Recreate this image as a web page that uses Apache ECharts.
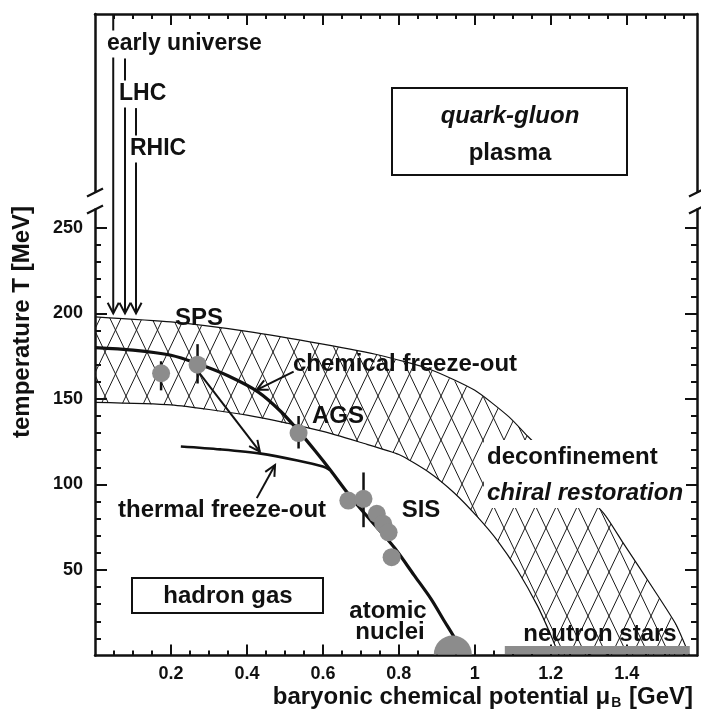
<!DOCTYPE html>
<html>
<head>
<meta charset="utf-8">
<script src="https://cdn.jsdelivr.net/npm/echarts@6/dist/echarts.min.js"></script>
<style>
  html, body { margin: 0; padding: 0; background: #fff; }
  #main { width: 701px; height: 723px; }
</style>
</head>
<body>
<div id="main"></div>
<script>
// ---- Data (mu_B in GeV, T in MeV) ----
// Hatched crossover band: upper and lower boundaries
const bandUpperMu = [0, 0.2, 0.4, 0.6, 0.75, 0.88, 1.0, 1.09, 1.14, 1.24, 1.34, 1.39, 1.47, 1.53, 1.565];
const bandUpperT  = [198, 195, 189.5, 182, 175.5, 167.5, 155, 139.5, 128, 106, 83, 66, 39, 18, 0];
const bandLowerMu = [0, 0.2, 0.4, 0.6, 0.7, 0.8, 0.88, 0.946, 1.007, 1.06, 1.112, 1.165, 1.2, 1.222];
const bandLowerT  = [148, 146.5, 140.5, 131, 124.5, 117.5, 107, 95, 81, 67, 50, 29, 12, 0];

// Chemical freeze-out curve
const chemMu = [0, 0.1, 0.2, 0.271, 0.35, 0.43, 0.49, 0.537, 0.58, 0.621, 0.665, 0.71, 0.75, 0.79, 0.84, 0.885, 0.92, 0.946, 0.955];
const chemT  = [180, 178.5, 175.5, 170.5, 163.5, 154, 142.5, 131, 119.5, 108, 95, 83, 73, 62.5, 47, 33, 20, 10.5, 6];

// Thermal freeze-out curve
const thermMu = [0.226, 0.33, 0.437, 0.533, 0.6, 0.618];
const thermT  = [122.2, 120.5, 118, 114, 110.5, 108.5];

// Freeze-out points (SPS, AGS, SIS)
const pointMu = [0.174, 0.27, 0.536, 0.667, 0.707, 0.742, 0.759, 0.773, 0.781];
const pointT  = [165, 170, 130, 90.6, 91.6, 82.8, 77, 72, 57.5];

// Vertical error bars
const errMu   = [0.174, 0.27, 0.536, 0.707];
const errLow  = [155, 159, 121, 75];
const errHigh = [172, 182, 140, 107];

// Beam trajectories (early universe, LHC, RHIC)
const beamMu   = [0.048, 0.079, 0.108];
const beamTopT = [375, 349, 320];
const beamTipT = [200, 200, 200];

// Pointer arrows: chemical label, SPS -> thermal, thermal label
const arrowFromMu = [0.523, 0.272, 0.426];
const arrowFromT  = [166, 166, 92];
const arrowToMu   = [0.426, 0.434, 0.474];
const arrowToT    = [155.3, 119.2, 111.4];

// Atomic nuclei and neutron stars
const nucleusMu = 0.942;
const neutronStarMu = [1.079, 1.566];

// Axis ticks
const xTickValues  = [0.2, 0.4, 0.6, 0.8, 1, 1.2, 1.4];
const xMinorValues = [0.05, 0.1, 0.15, 0.25, 0.3, 0.35, 0.45, 0.5, 0.55, 0.65, 0.7, 0.75, 0.85, 0.9, 0.95,
                      1.05, 1.1, 1.15, 1.25, 1.3, 1.35, 1.45, 1.5, 1.55];
const yTickValues  = [50, 100, 150, 200, 250];
const yMinorValues = [10, 20, 30, 40, 60, 70, 80, 90, 110, 120, 130, 140, 160, 170, 180, 190, 210, 220, 230, 240];

const X_MAX = 1.585, Y_MAX = 375, BREAK_T = 266;
const FONT = '"Liberation Sans", Arial, Helvetica, sans-serif';
const INK = '#111';

// Diamond cross-hatch tile for the crossover band
function makeHatch(w, h) {
  const c = document.createElement('canvas');
  c.width = w; c.height = h;
  const g = c.getContext('2d');
  g.strokeStyle = '#1a1a1a';
  g.lineWidth = 1;
  for (let k = -1; k <= 1; k++) {
    g.beginPath();
    g.moveTo(k * w - w, -h); g.lineTo(k * w + 2 * w, 2 * h);
    g.moveTo(k * w + 2 * w, -h); g.lineTo(k * w - w, 2 * h);
    g.stroke();
  }
  return c;
}
const hatch = makeHatch(21, 44);

function zip(a, b) { return a.map((v, i) => [v, b[i]]); }

function xAxisCfg(pos, values, len, showLine, showLabel) {
  return {
    type: 'value', position: pos, min: 0, max: X_MAX,
    axisLine: { show: showLine, onZero: false, lineStyle: { color: INK, width: 2.5 } },
    axisTick: { show: true, inside: true, length: len, customValues: values, lineStyle: { color: INK, width: 2 } },
    axisLabel: showLabel ? {
      show: true, customValues: values, margin: 10,
      fontFamily: FONT, fontWeight: 'bold', fontSize: 18, color: INK,
      formatter: v => String(v)
    } : { show: false },
    splitLine: { show: false }
  };
}
function yAxisCfg(pos, values, len, showLine, showLabel) {
  return {
    type: 'value', position: pos, min: 0, max: Y_MAX,
    axisLine: { show: showLine, onZero: false, lineStyle: { color: INK, width: 2.5 } },
    axisTick: { show: true, inside: true, length: len, customValues: values, lineStyle: { color: INK, width: 2 } },
    axisLabel: showLabel ? {
      show: true, customValues: values, margin: 12,
      fontFamily: FONT, fontWeight: 'bold', fontSize: 18, color: INK
    } : { show: false },
    splitLine: { show: false }
  };
}

function arrowShape(p1, p2, len, spread) {
  const ang = Math.atan2(p2[1] - p1[1], p2[0] - p1[0]);
  const h1 = [p2[0] - len * Math.cos(ang - spread), p2[1] - len * Math.sin(ang - spread)];
  const h2 = [p2[0] - len * Math.cos(ang + spread), p2[1] - len * Math.sin(ang + spread)];
  return [
    { type: 'line', shape: { x1: p1[0], y1: p1[1], x2: p2[0], y2: p2[1] }, style: { stroke: INK, lineWidth: 2 } },
    { type: 'polyline', shape: { points: [h1, p2, h2] }, style: { stroke: INK, lineWidth: 2, fill: null } }
  ];
}

function label(text, x, y, opts) {
  opts = opts || {};
  return {
    type: 'text', z: 100,
    style: Object.assign({
      text: text, x: x, y: y,
      fontFamily: FONT, fontWeight: 'bold', fontSize: 24, fill: INK,
      align: 'left', verticalAlign: 'middle'
    }, opts)
  };
}

const chart = echarts.init(document.getElementById('main'), null, { renderer: 'canvas' });

const option = {
  backgroundColor: '#fff',
  animation: false,
  grid: { left: 95, right: 4, top: 14, bottom: 67.5 },
  xAxis: [
    xAxisCfg('bottom', xTickValues, 11, true, true),
    xAxisCfg('bottom', xMinorValues, 5, false, false),
    xAxisCfg('top', xTickValues, 11, true, false),
    xAxisCfg('top', xMinorValues, 5, false, false)
  ],
  yAxis: [
    yAxisCfg('left', yTickValues, 12, true, true),
    yAxisCfg('left', yMinorValues, 6, false, false),
    yAxisCfg('right', yTickValues, 12, true, false),
    yAxisCfg('right', yMinorValues, 6, false, false)
  ],
  series: [
    {
      // hatched crossover band
      type: 'custom', name: 'band', z: 1, silent: true,
      data: [0],
      renderItem: function (params, api) {
        const pts = [];
        for (let i = 0; i < bandUpperMu.length; i++) pts.push(api.coord([bandUpperMu[i], bandUpperT[i]]));
        for (let i = bandLowerMu.length - 1; i >= 0; i--) pts.push(api.coord([bandLowerMu[i], bandLowerT[i]]));
        return { type: 'polygon', shape: { points: pts }, style: { fill: { image: hatch, repeat: 'repeat' }, stroke: null } };
      }
    },
    {
      type: 'line', name: 'band upper', z: 2, silent: true, showSymbol: false, smooth: 0.2,
      data: zip(bandUpperMu, bandUpperT), lineStyle: { color: INK, width: 1.2 }
    },
    {
      type: 'line', name: 'band lower', z: 2, silent: true, showSymbol: false, smooth: 0.2,
      data: zip(bandLowerMu, bandLowerT), lineStyle: { color: INK, width: 1.2 }
    },
    {
      type: 'line', name: 'chemical freeze-out', z: 3, silent: true, showSymbol: false, smooth: 0.3,
      data: zip(chemMu, chemT), lineStyle: { color: INK, width: 3.2 }
    },
    {
      type: 'line', name: 'thermal freeze-out', z: 3, silent: true, showSymbol: false, smooth: 0.3,
      data: zip(thermMu, thermT), lineStyle: { color: INK, width: 2.6 }
    },
    {
      // error bars
      type: 'custom', name: 'errors', z: 4, silent: true,
      data: errMu.map((m, i) => [m, errLow[i], errHigh[i]]),
      renderItem: function (params, api) {
        const a = api.coord([api.value(0), api.value(1)]);
        const b = api.coord([api.value(0), api.value(2)]);
        return { type: 'line', shape: { x1: a[0], y1: a[1], x2: b[0], y2: b[1] }, style: { stroke: INK, lineWidth: 2.5 } };
      }
    },
    {
      // beam trajectories with open arrowheads
      type: 'custom', name: 'beams', z: 4, silent: true,
      data: beamMu.map((m, i) => [m, beamTopT[i], m, beamTipT[i]]),
      renderItem: function (params, api) {
        const p1 = api.coord([api.value(0), api.value(1)]);
        const p2 = api.coord([api.value(2), api.value(3)]);
        return { type: 'group', children: arrowShape(p1, p2, 12, 0.48) };
      }
    },
    {
      // pointer arrows
      type: 'custom', name: 'arrows', z: 4, silent: true,
      data: arrowFromMu.map((m, i) => [m, arrowFromT[i], arrowToMu[i], arrowToT[i]]),
      renderItem: function (params, api) {
        const p1 = api.coord([api.value(0), api.value(1)]);
        const p2 = api.coord([api.value(2), api.value(3)]);
        return { type: 'group', children: arrowShape(p1, p2, 12, 0.45) };
      }
    },
    {
      type: 'scatter', name: 'freeze-out points', z: 5, silent: true,
      symbol: 'circle', symbolSize: 18,
      data: zip(pointMu, pointT),
      itemStyle: { color: '#8c8c8c', opacity: 1 }
    },
    {
      // atomic nuclei (half disc on the axis)
      type: 'custom', name: 'nuclei', z: 5, silent: true,
      data: [[nucleusMu, 0]],
      renderItem: function (params, api) {
        const c = api.coord([api.value(0), api.value(1)]);
        return {
          type: 'sector',
          shape: { cx: c[0], cy: c[1] - 1, r0: 0, r: 19, startAngle: Math.PI, endAngle: 2 * Math.PI, clockwise: true },
          style: { fill: '#8c8c8c' }
        };
      }
    },
    {
      // neutron stars (bar along the axis)
      type: 'custom', name: 'neutron stars', z: 5, silent: true,
      data: [[neutronStarMu[0], neutronStarMu[1]]],
      renderItem: function (params, api) {
        const a = api.coord([api.value(0), 0]);
        const b = api.coord([api.value(1), 0]);
        return { type: 'rect', shape: { x: a[0], y: a[1] - 9.5, width: b[0] - a[0], height: 8 }, style: { fill: '#8c8c8c' } };
      }
    }
  ],
  graphic: { elements: [] }
};

chart.setOption(option);

// Axis break marks, text labels and boxes
const xl = chart.convertToPixel({ xAxisIndex: 0 }, 0);
const xr = chart.convertToPixel({ xAxisIndex: 0 }, X_MAX);
const yb = chart.convertToPixel({ yAxisIndex: 0 }, BREAK_T);

function breakMark(x) {
  return [
    { type: 'rect', z: 90, shape: { x: x - 5, y: yb - 8, width: 10, height: 16 }, style: { fill: '#fff' } },
    { type: 'line', z: 91, shape: { x1: x - 8, y1: yb - 4, x2: x + 8, y2: yb - 12 }, style: { stroke: INK, lineWidth: 2.2 } },
    { type: 'line', z: 91, shape: { x1: x - 8, y1: yb + 13, x2: x + 8, y2: yb + 5 }, style: { stroke: INK, lineWidth: 2.2 } }
  ];
}

const bg = { backgroundColor: '#fff', padding: [2, 2, 2, 2] };

const elements = [].concat(
  breakMark(xl), breakMark(xr),
  [
    // quark-gluon plasma box
    { type: 'rect', z: 95, shape: { x: 392, y: 88, width: 235, height: 87 }, style: { fill: '#fff', stroke: INK, lineWidth: 2 } },
    label('quark-gluon', 510, 116, { align: 'center', fontStyle: 'italic' }),
    label('plasma', 510, 153, { align: 'center' }),
    // hadron gas box
    { type: 'rect', z: 95, shape: { x: 132, y: 578, width: 191, height: 35 }, style: { fill: '#fff', stroke: INK, lineWidth: 2 } },
    label('hadron gas', 228, 596, { align: 'center' }),
    // white area behind the phase labels
    { type: 'rect', z: 50, shape: { x: 484, y: 440, width: 202, height: 68 }, style: { fill: '#fff' } },
    label('deconfinement', 487, 457),
    label('chiral restoration', 487, 493, { fontStyle: 'italic' }),
    label('early universe', 105, 44, Object.assign({ fontSize: 23 }, bg)),
    label('LHC', 117, 94, Object.assign({ fontSize: 23 }, bg)),
    label('RHIC', 128, 149, Object.assign({ fontSize: 23 }, bg)),
    label('SPS', 199, 318, { align: 'center' }),
    label('chemical freeze-out', 293, 364),
    label('AGS', 338, 416, { align: 'center' }),
    label('thermal freeze-out', 118, 510),
    label('SIS', 421, 510, { align: 'center' }),
    label('atomic', 388, 611, { align: 'center' }),
    label('nuclei', 390, 632, { align: 'center' }),
    label('neutron stars', 600, 634, { align: 'center' }),
    // axis titles
    {
      type: 'text', z: 100, x: 22, y: 322, rotation: Math.PI / 2,
      style: { text: 'temperature T [MeV]', x: 0, y: 0, fontFamily: FONT, fontWeight: 'bold', fontSize: 24, fill: INK, align: 'center', verticalAlign: 'middle' }
    },
    {
      type: 'text', z: 100,
      style: {
        text: '{a|baryonic chemical potential μ}{b|B}{a| [GeV]}',
        x: 693, y: 697, align: 'right', verticalAlign: 'middle',
        rich: {
          a: { fontFamily: FONT, fontWeight: 'bold', fontSize: 24, fill: INK },
          b: { fontFamily: FONT, fontWeight: 'bold', fontSize: 14, fill: INK, padding: [12, 1, 0, 1] }
        }
      }
    }
  ]
);

chart.setOption({ graphic: { elements: elements } });
</script>
</body>
</html>
